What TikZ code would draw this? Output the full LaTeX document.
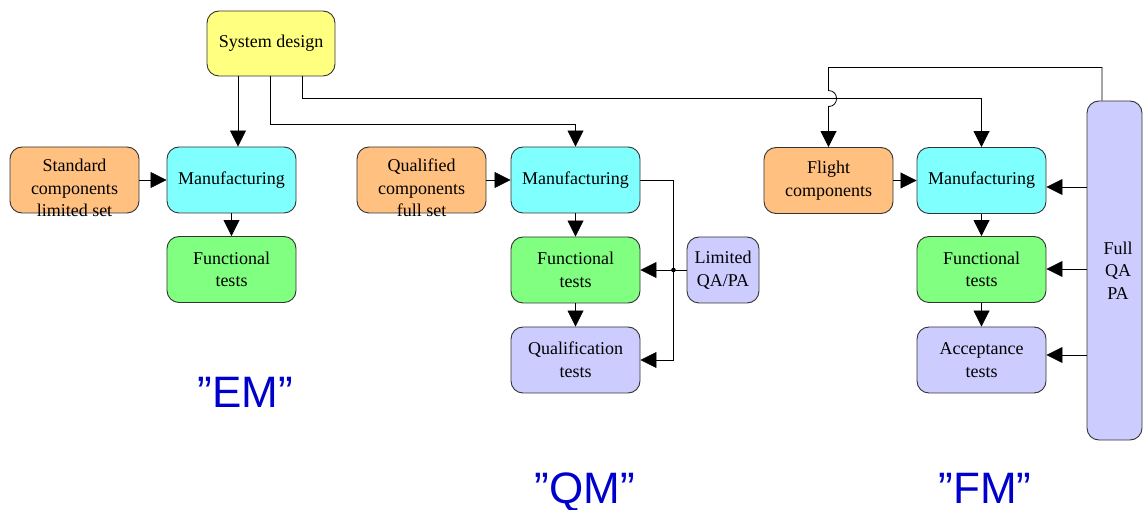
\documentclass[tikz,border=0pt]{standalone}
\usepackage{fontspec}
\setmainfont{Liberation Serif}
\newfontfamily\bigsans{Liberation Sans}
\usetikzlibrary{arrows.meta}
\definecolor{cyel}{HTML}{FFFF80}
\definecolor{ccyan}{HTML}{80FFFF}
\definecolor{cgreen}{HTML}{80FF80}
\definecolor{corange}{HTML}{FFC080}
\definecolor{clav}{HTML}{CCCCFF}
\definecolor{cblue}{HTML}{0000CC}
\tikzset{
  txt/.style={align=center, inner sep=0pt, font=\fontsize{18}{22.5}\selectfont},
  box/.style={txt, draw=black!80, line width=0.9pt, rounded corners=12pt,
    minimum width=129pt, minimum height=66pt},
  arr/.style={draw=black, line width=0.8pt, -{Triangle[length=16pt,width=16pt]}},
  bigl/.style={font=\bigsans\fontsize{44}{50}\selectfont, text=cblue, inner sep=0pt, anchor=base}
}
\begin{document}
\begin{tikzpicture}[x=1pt,y=-1pt]
\useasboundingbox (0,0) rectangle (1143,510);
% boxes
\node[box, fill=cyel, minimum width=128pt, minimum height=65pt] (sys) at (271,43.5) {System design};
\node[box, fill=corange] (std) at (74.5,180) {};
\node[txt] (stdt) at (74.5,188) {Standard\\components\\limited set};
\node[box, fill=ccyan] (mfg1) at (231.5,180) {Manufacturing};
\node[box, fill=cgreen] (fun1) at (231.5,269.5) {Functional\\tests};
\node[box, fill=corange] (qual) at (421.5,180) {};
\node[txt] (qualt) at (421.5,188) {Qualified\\components\\full set};
\node[box, fill=ccyan] (mfg2) at (575.5,180) {Manufacturing};
\node[box, fill=cgreen] (fun2) at (575.5,270) {Functional\\tests};
\node[box, fill=clav] (qt) at (575.5,360) {Qualification\\tests};
\node[box, fill=clav, minimum width=72pt] (lim) at (723,270) {Limited\\QA/PA};
\node[box, fill=corange] (flt) at (828.5,180.5) {Flight\\components};
\node[box, fill=ccyan] (mfg3) at (981.5,180.5) {Manufacturing};
\node[box, fill=cgreen] (fun3) at (981.5,269.5) {Functional\\tests};
\node[box, fill=clav] (acc) at (981.5,360) {Acceptance\\tests};
\node[box, fill=clav, minimum width=55pt, minimum height=339pt] (full) at (1114.5,270.5) {};
\node[txt] (fullt) at (1118,270.5) {Full\\QA\\PA};
% labels
\node[bigl] (em) at (245,407) {”EM”};
\node[bigl] (qm) at (585,503) {”QM”};
\node[bigl] (fm) at (985,503) {”FM”};
% connectors from system design
\draw[arr] ([xshift=-33pt]sys.south) -- ([xshift=-33pt]sys.south |- mfg1.north);
\draw[arr] ([xshift=-1pt]sys.south) -- ++(0,48) -| (mfg2.north);
\draw[arr] ([xshift=31pt]sys.south) -- ++(0,22) -| (mfg3.north);
% loop from full QA PA to flight components with hop
\coordinate (hopA) at ([yshift=56.5pt]flt.north);
\coordinate (hopB) at ([yshift=40.5pt]flt.north);
\draw[arr] ([xshift=-12.5pt]full.north) -- ++(0,-33) -| (hopA)
  .. controls +(10.7,0) and +(10.7,0) .. (hopB) -- (flt.north);
% horizontal inputs
\draw[arr] (std.east) -- (mfg1.west);
\draw[arr] (qual.east) -- (mfg2.west);
\draw[arr] (flt.east) -- (flt.east -| mfg3.west);
% vertical flows
\draw[arr] (mfg1.south) -- (fun1.north);
\draw[arr] (mfg2.south) -- (fun2.north);
\draw[arr] (fun2.south) -- (qt.north);
\draw[arr] (mfg3.south) -- (fun3.north);
\draw[arr] (fun3.south) -- (acc.north);
% QM limited QA/PA
\coordinate (jx) at ([xshift=33pt]mfg2.east);
\draw[arr] (mfg2.east) -- (jx) |- (qt.east);
\draw[arr] (lim.west) -- (fun2.east);
\fill (jx |- lim.west) circle (2.3pt);
% Full QA PA arrows
\draw[arr] ([yshift=83.5pt]full.west) -- ([yshift=83.5pt]full.west -| mfg3.east);
\draw[arr] ([yshift=1.5pt]full.west) -- ([yshift=1.5pt]full.west -| fun3.east);
\draw[arr] ([yshift=-84.5pt]full.west) -- ([yshift=-84.5pt]full.west -| acc.east);
\end{tikzpicture}
\end{document}
